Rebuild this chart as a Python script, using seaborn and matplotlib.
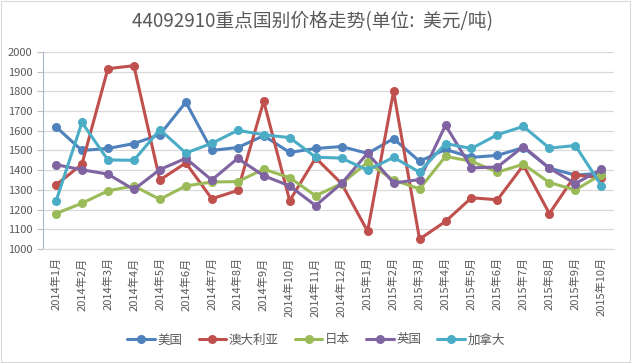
import pandas as pd
import seaborn as sns
import matplotlib.pyplot as plt
from matplotlib.lines import Line2D
from matplotlib.patches import Rectangle

# 月份
months = [
    "2014年1月", "2014年2月", "2014年3月", "2014年4月", "2014年5月", "2014年6月",
    "2014年7月", "2014年8月", "2014年9月", "2014年10月", "2014年11月", "2014年12月",
    "2015年1月", "2015年2月", "2015年3月", "2015年4月", "2015年5月", "2015年6月",
    "2015年7月", "2015年8月", "2015年9月", "2015年10月",
]

# 各国价格 (美元/吨)
usa = [1620, 1500, 1510, 1535, 1580, 1745, 1500, 1515, 1575, 1490, 1510, 1520,
       1485, 1560, 1445, 1505, 1465, 1475, 1515, 1410, 1375, 1385]
australia = [1325, 1430, 1915, 1930, 1350, 1437, 1255, 1297, 1750, 1245, 1462, 1332,
             1090, 1800, 1050, 1140, 1260, 1250, 1425, 1180, 1375, 1362]
japan = [1180, 1232, 1295, 1320, 1252, 1320, 1340, 1342, 1405, 1362, 1270, 1332,
         1440, 1350, 1305, 1470, 1445, 1390, 1430, 1337, 1300, 1378]
uk = [1428, 1402, 1380, 1302, 1403, 1460, 1350, 1460, 1372, 1320, 1220, 1333,
      1486, 1335, 1352, 1628, 1412, 1416, 1520, 1410, 1332, 1404]
canada = [1242, 1642, 1452, 1450, 1606, 1487, 1536, 1602, 1580, 1565, 1466, 1461,
          1400, 1465, 1390, 1535, 1510, 1580, 1622, 1512, 1525, 1322]

countries = ["美国", "澳大利亚", "日本", "英国", "加拿大"]
colors = ["#4F81BD", "#C0504D", "#9BBB59", "#8064A2", "#4BACC6"]

df = pd.DataFrame({"月份": months * 5,
                   "国家": sum([[c] * len(months) for c in countries], []),
                   "价格": usa + australia + japan + uk + canada})

sns.set_style("white")
plt.rcParams['font.family'] = ['Noto Sans CJK SC', 'DejaVu Sans']

fig = plt.figure(figsize=(6.32, 3.63), dpi=100)
ax = fig.add_axes([0.068, 0.314, 0.904, 0.543])

sns.lineplot(data=df, x="月份", y="价格", hue="国家", hue_order=countries,
             palette=colors, marker="o", markersize=6.5, markeredgewidth=0,
             linewidth=2.2, sort=False, legend=False, ax=ax)

ax.set_xlim(-0.5, len(months) - 0.5)
ax.set_ylim(1000, 2000)
ax.set_yticks(range(1000, 2001, 100))
ax.yaxis.grid(True, color="#D9D9D9", linewidth=0.9)
ax.set_axisbelow(True)
ax.set_xlabel("")
ax.set_ylabel("")

ax.set_xticks(range(len(months)))
ax.set_xticklabels(months, rotation=90, fontsize=8, color="#595959")
ax.set_xticks([i + 0.5 for i in range(-1, len(months))], minor=True)
ax.tick_params(axis="x", which="major", length=0, pad=6)
ax.tick_params(axis="x", which="minor", length=4, color="#BFBFBF", width=0.8)
ax.tick_params(axis="y", labelsize=8, labelcolor="#595959", length=4,
               color="#BFBFBF", width=0.8, left=True)

for s in ["top", "right"]:
    ax.spines[s].set_visible(False)
ax.spines["left"].set_color("#A6B7CC")
ax.spines["bottom"].set_color("#D9D9D9")

handles = [Line2D([0], [0], color=c, lw=2.2, marker="o", markersize=6.5,
                  markeredgewidth=0) for c in colors]
fig.legend(handles, countries, loc="center", bbox_to_anchor=(0.5, 1 - 340 / 363),
           ncol=5, frameon=False, fontsize=9, handlelength=2.2,
           columnspacing=1.3, handletextpad=0.2, labelcolor="#595959")

fig.suptitle("44092910重点国别价格走势(单位:  美元/吨)", x=0.494, y=1 - 22 / 363,
             va="center", fontsize=13.5, color="#595959")

fig.patches.append(Rectangle((0.002, 0.003), 0.995, 0.994, transform=fig.transFigure,
                             fill=False, edgecolor="#D9D9D9", linewidth=0.8))

fig.savefig("out.png", dpi=100)
